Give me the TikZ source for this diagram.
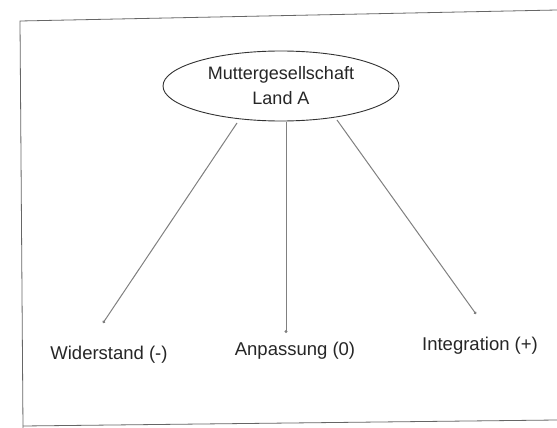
\documentclass[tikz,border=0pt]{standalone}
\usepackage{fontspec}
\setmainfont{Liberation Sans}
\usetikzlibrary{arrows.meta,shapes.geometric}
\begin{document}
\begin{tikzpicture}[x=1pt,y=-1pt,
  frame/.style={draw=black!60,line width=0.8pt},
  conn/.style={draw=black!50,line width=1pt,-{Circle[length=2.8pt]}},
  lbl/.style={font=\fontsize{18.5}{22}\selectfont,text=black!85,inner sep=0pt},
  ell/.style={draw=black!80,line width=0.9pt,ellipse,minimum width=236pt,minimum height=70pt,inner sep=0pt,align=center,font=\fontsize{18}{25}\selectfont,text=black!85}]
\useasboundingbox (0,0) rectangle (557,428);
\fill[white] (0,0) rectangle (557,428);
% frame
\coordinate (ftl) at (20,21);
\coordinate (ftr) at (557,10);
\coordinate (fbl) at (23,428);
\coordinate (fbl2) at (23,426);
\coordinate (fbr) at (557,420);
\draw[frame] (ftr) -- (ftl) -- (fbl);
\draw[frame] (fbl2) -- (fbr);
% ellipse
\node[ell] (m) at (281,86) {Muttergesellschaft\\Land A};
% labels
\node[lbl] (w) at (109,355) {Widerstand (-)};
\node[lbl] (a) at (295,351) {Anpassung (0)};
\node[lbl] (i) at (480,346) {Integration (+)};
% connector points
\coordinate (s1) at (237,123);
\coordinate (s2) at (286,122);
\coordinate (s3) at (337,120);
\coordinate (e1) at (103,323);
\coordinate (e2) at (286,333);
\coordinate (e3) at (476,314);
\draw[conn] (s1) -- (e1);
\draw[conn] (s2) -- (e2);
\draw[conn] (s3) -- (e3);
\end{tikzpicture}
\end{document}
